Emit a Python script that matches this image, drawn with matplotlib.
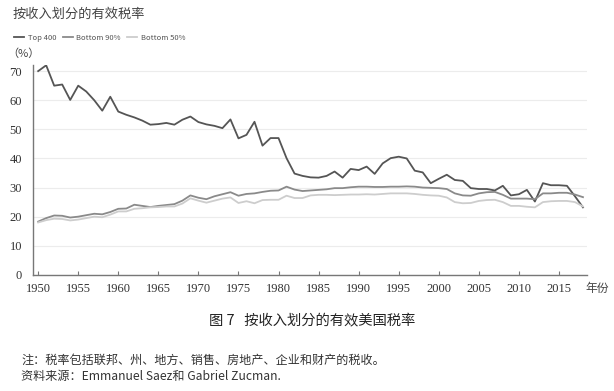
import matplotlib
matplotlib.use("Agg")
import matplotlib.pyplot as plt
import numpy as np

plt.rcParams['font.family'] = ['Noto Sans CJK SC', 'DejaVu Sans']

years = list(range(1950, 2019))
top400 = [70.0, 72.0, 65.0, 65.4, 60.1, 65.0, 63.0, 60.0, 56.4, 61.2,
          56.1, 55.0, 54.1, 53.0, 51.6, 51.8, 52.2, 51.6, 53.3, 54.4,
          52.5, 51.7, 51.2, 50.4, 53.4, 46.9, 48.1, 52.6, 44.4, 47.0,
          47.0, 40.1, 34.8, 34.0, 33.5, 33.4, 34.0, 35.5, 33.4, 36.4,
          36.0, 37.2, 34.7, 38.3, 40.1, 40.6, 40.0, 35.8, 35.2, 31.5,
          33.0, 34.4, 32.6, 32.3, 29.8, 29.5, 29.5, 29.0, 30.6, 27.3,
          27.7, 29.2, 25.2, 31.5, 30.8, 30.8, 30.6, 27.0, 23.2]
bottom90 = [18.3, 19.5, 20.4, 20.3, 19.7, 20.0, 20.5, 21.0, 20.8, 21.6,
            22.7, 22.8, 24.1, 23.7, 23.3, 23.7, 24.0, 24.3, 25.5, 27.3,
            26.5, 26.0, 27.0, 27.7, 28.4, 27.2, 27.8, 28.0, 28.5, 28.9,
            29.0, 30.3, 29.3, 28.8, 29.0, 29.2, 29.4, 29.8, 29.8, 30.1,
            30.3, 30.3, 30.2, 30.2, 30.3, 30.3, 30.4, 30.3, 30.0, 29.9,
            29.8, 29.5, 28.0, 27.3, 27.2, 28.0, 28.4, 28.5, 27.5, 26.2,
            26.2, 26.2, 26.0, 28.0, 28.0, 28.2, 28.2, 27.6, 26.7]
bottom50 = [18.0, 18.8, 19.3, 19.2, 18.7, 19.0, 19.5, 20.0, 19.8, 20.7,
            21.8, 21.8, 22.7, 22.9, 23.2, 23.3, 23.5, 23.5, 24.5, 26.3,
            25.5, 24.8, 25.5, 26.2, 26.6, 24.7, 25.3, 24.6, 25.7, 25.8,
            25.8, 27.2, 26.4, 26.4, 27.3, 27.5, 27.5, 27.4, 27.5, 27.6,
            27.6, 27.7, 27.6, 27.8, 28.0, 28.0, 28.0, 27.8, 27.5, 27.3,
            27.2, 26.6, 25.0, 24.6, 24.7, 25.4, 25.7, 25.8, 25.0, 23.7,
            23.7, 23.4, 23.2, 25.0, 25.3, 25.4, 25.4, 25.0, 23.5]

series_names = ["Top 400", "Bottom 90%", "Bottom 50%"]
series_colors = ["#555555", "#8a8a8a", "#cdcdcd"]
xticks = list(range(1950, 2016, 5))
yticks = list(range(0, 71, 10))

fig = plt.figure(figsize=(6.14, 3.91), dpi=100)
ax = fig.add_axes([0.054, 0.297, 0.902, 0.536])

for vals, name, col in zip([top400, bottom90, bottom50], series_names, series_colors):
    ax.plot(years, vals, color=col, lw=1.3, label=name, zorder=3)

ax.set_xlim(1949.375, 2018.5)
ax.set_ylim(0, 72)
ax.set_xticks(xticks)
ax.set_yticks(yticks)
ax.set_xticklabels([str(t) for t in xticks])
ax.set_yticklabels([str(t) for t in yticks])
for lbl in ax.get_xticklabels() + ax.get_yticklabels():
    lbl.set_fontfamily(['Liberation Serif'])
    lbl.set_fontsize(9)
    lbl.set_color('#333333')
ax.tick_params(axis='x', direction='in', length=3, width=0.8, color='#777777', pad=6)
ax.tick_params(axis='y', length=0, pad=8)
ax.grid(axis='y', color='#ececec', lw=0.8)
ax.set_axisbelow(True)
for s in ['top', 'right']:
    ax.spines[s].set_visible(False)
for s in ['left', 'bottom']:
    ax.spines[s].set_color('#777777')
    ax.spines[s].set_linewidth(1.0)

fig.text(0.02, 0.963, "按收入划分的有效税率", fontsize=9.5, color='#444444', va='center')
leg = fig.legend(loc='center left', bbox_to_anchor=(0.012, 0.903), ncol=3, frameon=False,
                 fontsize=5.5, handlelength=1.3, handletextpad=0.5, columnspacing=0.8,
                 labelcolor='#555555')
fig.text(0.012, 0.862, "（%）", fontsize=8, color='#444444', va='center')
fig.text(0.953, 0.263, "年份", fontsize=8.5, color='#444444', va='center')
fig.text(0.508, 0.181, "图 7   按收入划分的有效美国税率", fontsize=10.3, color='#222222', ha='center', va='center')
fig.text(0.035, 0.079, "注：税率包括联邦、州、地方、销售、房地产、企业和财产的税收。", fontsize=8.7, color='#333333', va='center')
fig.text(0.035, 0.036, "资料来源：Emmanuel Saez和 Gabriel Zucman.", fontsize=8.7, color='#333333', va='center')

fig.savefig("out.png", dpi=100)
